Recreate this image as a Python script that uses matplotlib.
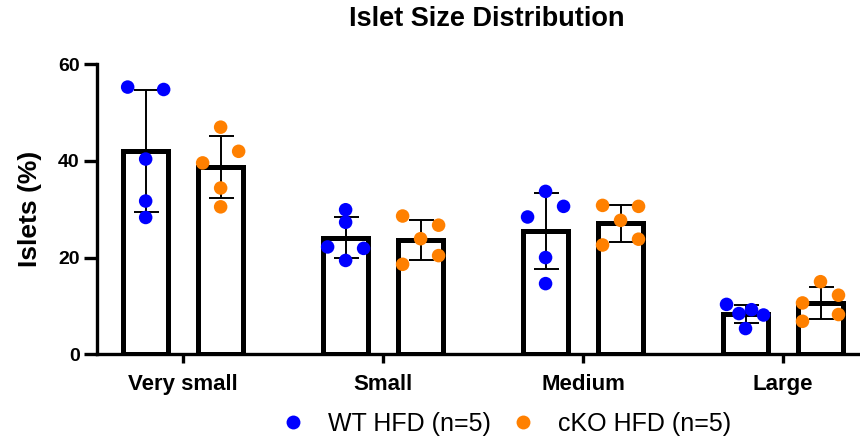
import numpy as np
import matplotlib
matplotlib.use("Agg")
import matplotlib.pyplot as plt
from matplotlib.lines import Line2D

plt.rcParams["font.family"] = ["Liberation Sans", "DejaVu Sans"]

categories = ["Very small", "Small", "Medium", "Large"]
groups = ["WT HFD (n=5)", "cKO HFD (n=5)"]
colors = ["#0000FF", "#FF8000"]

# individual animal values (% islets) per size class
wt_values = [
    [55.3, 54.8, 40.4, 31.7, 28.3],
    [29.9, 27.3, 22.2, 21.9, 19.4],
    [33.7, 30.6, 28.4, 20.0, 14.6],
    [10.3, 9.2, 8.4, 8.1, 5.3],
]
cko_values = [
    [47.0, 42.0, 39.6, 34.4, 30.5],
    [28.6, 26.7, 23.9, 20.4, 18.6],
    [30.8, 30.6, 27.7, 23.8, 22.6],
    [15.0, 12.2, 10.6, 8.2, 6.8],
]
# horizontal scatter of the dots within each bar (category units)
wt_jitter = [
    [-0.09, 0.09, 0, 0, 0],
    [0, 0, -0.09, 0.09, 0],
    [0, 0.09, -0.09, 0, 0],
    [-0.095, 0.03, -0.033, 0.09, 0],
]
cko_jitter = [
    [0, 0.09, -0.09, 0, 0],
    [-0.09, 0.09, 0, 0.09, -0.09],
    [-0.09, 0.09, 0, 0.09, -0.09],
    [0, 0.09, -0.09, 0.09, -0.09],
]
yticks = [0, 20, 40, 60]

fig = plt.figure(figsize=(8.6, 4.41), dpi=100)
ax = fig.add_axes([0.113, 0.197, 0.887, 0.657])

x = np.arange(len(categories))
offset = 0.1875
width = 0.225

for data, jit, col, sgn in [(wt_values, wt_jitter, colors[0], -1),
                            (cko_values, cko_jitter, colors[1], 1)]:
    arr = np.array(data)
    means = arr.mean(axis=1)
    sds = arr.std(axis=1, ddof=1)
    pos = x + sgn * offset
    ax.bar(pos, means, width=width, facecolor="white", edgecolor="black",
           linewidth=3.6, zorder=2)
    ax.errorbar(pos, means, yerr=sds, fmt="none", ecolor="black",
                elinewidth=1.4, capsize=9, capthick=1.4, zorder=3)
    for i in range(len(categories)):
        ax.scatter(pos[i] + np.array(jit[i]), arr[i], s=95, color=col,
                   edgecolors="none", zorder=4)

ax.set_xlim(-0.43, 3.385)
ax.set_ylim(0, 60)
ax.set_yticks(yticks)
ax.set_xticks(x)
ax.set_xticklabels(categories, fontsize=16, fontweight="bold")
for lab in ax.get_yticklabels():
    lab.set_fontsize(14)
    lab.set_fontweight("bold")
ax.set_ylabel("Islets (%)", fontsize=19, fontweight="bold", labelpad=12)

for s in ["top", "right"]:
    ax.spines[s].set_visible(False)
for s in ["left", "bottom"]:
    ax.spines[s].set_linewidth(2.4)
ax.spines["left"].set_bounds(0, 60)
ax.tick_params(axis="y", length=9.5, width=2.4, pad=3)
ax.tick_params(axis="x", length=6.5, width=2.4, pad=8)

fig.text(0.566, 0.958, "Islet Size Distribution", ha="center", va="center",
         fontsize=19.5, fontweight="bold")

handles = [Line2D([], [], marker="o", linestyle="none", markersize=10,
                  markerfacecolor=c, markeredgecolor="none") for c in colors]
fig.legend(handles, groups, loc="center", bbox_to_anchor=(0.588, 0.039),
           ncol=2, frameon=False, fontsize=18, handlelength=1.0,
           handletextpad=0.9, columnspacing=0.8)

fig.savefig("out.png", dpi=100)
